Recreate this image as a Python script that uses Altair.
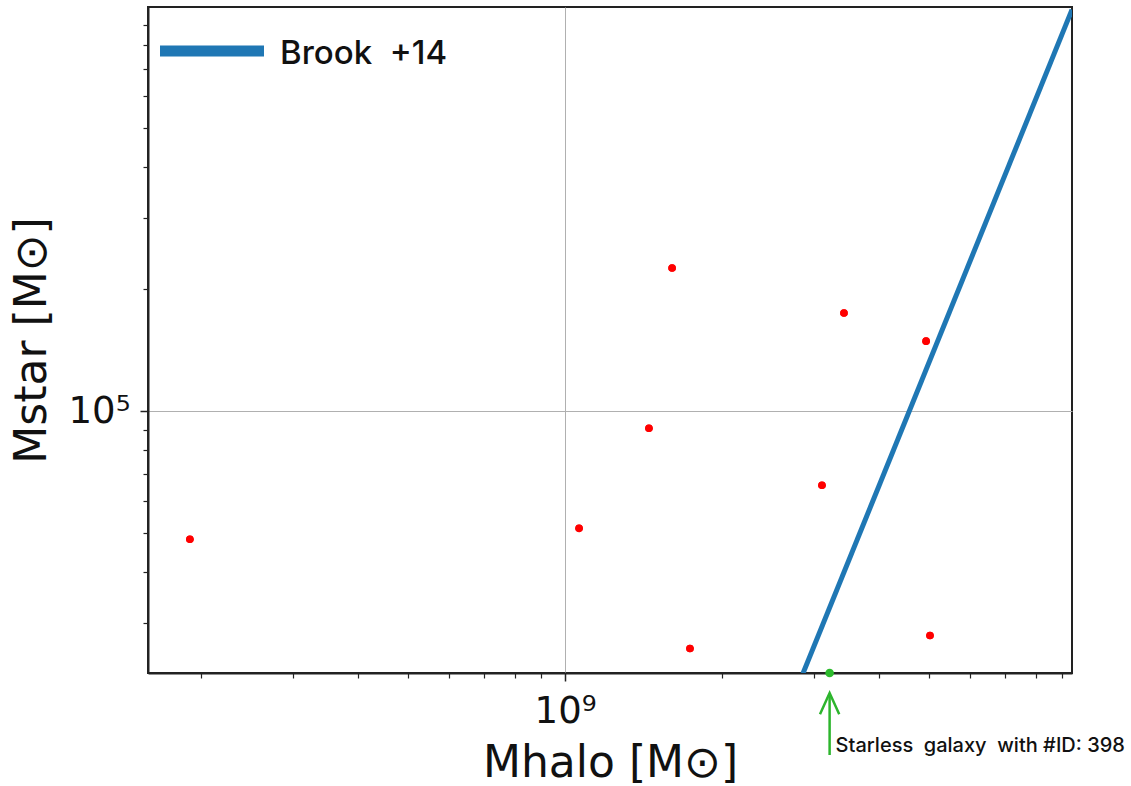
import altair as alt
import pandas as pd

# ---- data ----
mhalo = [1.905e8, 1.064e9, 1.449e9, 1.605e9, 1.737e9, 3.113e9, 3.431e9, 4.932e9, 5.018e9]
mstar = [48270, 51370, 90770, 225700, 25950, 65620, 174700, 148900, 27940]

starless_mhalo = [3.22e9]
starless_mstar = [22570]

brook_mhalo = [2.862e9, 9.40e9]
brook_mstar = [22510, 980000]

x_major = [1e9]
x_minor = [2e8, 3e8, 4e8, 5e8, 6e8, 7e8, 8e8, 9e8, 2e9, 3e9, 4e9, 5e9, 6e9, 7e9, 8e9, 9e9]
y_major = [1e5]
y_minor = [3e4, 4e4, 5e4, 6e4, 7e4, 8e4, 9e4, 2e5, 3e5, 4e5, 5e5, 6e5, 7e5, 8e5, 9e5]

x_domain = [1.583e8, 9.40e9]
y_domain = [22570, 995000]

legend_label = "Brook\u00a0\u00a0+14"
note_text = "Starless\u00a0\u00a0galaxy\u00a0\u00a0with #ID: 398"

pts = pd.DataFrame({"mhalo": mhalo, "mstar": mstar})
starless = pd.DataFrame({"mhalo": starless_mhalo, "mstar": starless_mstar})
brook = pd.DataFrame({"mhalo": brook_mhalo, "mstar": brook_mstar})
one = pd.DataFrame({"k": [0]})

xs = alt.Scale(type="log", domain=x_domain, nice=False, zero=False)
ys = alt.Scale(type="log", domain=y_domain, nice=False, zero=False)

BLACK = "#222222"

x_axis_major = alt.Axis(
    orient="bottom", values=x_major, labelExpr="'10⁹'", title="Mhalo [M⊙]",
    grid=True, gridColor="#b0b0b0", gridWidth=1, tickSize=8, tickWidth=1.5,
    tickColor=BLACK, domainColor=BLACK, domainWidth=2, labelFont="DejaVu Sans",
    labelFontSize=37, labelColor="#111111", labelPadding=12, titleFont="DejaVu Sans",
    titleFontSize=44, titleFontWeight="normal", titleColor="#111111", titlePadding=12,
)
y_axis_major = alt.Axis(
    orient="left", values=y_major, labelExpr="'10⁵'", title="Mstar [M⊙]",
    grid=True, gridColor="#b0b0b0", gridWidth=1, tickSize=8, tickWidth=1.5,
    tickColor=BLACK, domainColor=BLACK, domainWidth=2, labelFont="DejaVu Sans",
    labelFontSize=37, labelColor="#111111", labelPadding=10, titleFont="DejaVu Sans",
    titleFontSize=44, titleFontWeight="normal", titleColor="#111111", titlePadding=14,
)
x_axis_minor = alt.Axis(orient="bottom", values=x_minor, labels=False, title=None,
                        grid=False, tickSize=5, tickWidth=1.2, tickColor=BLACK, domain=False)
y_axis_minor = alt.Axis(orient="left", values=y_minor, labels=False, title=None,
                        grid=False, tickSize=5, tickWidth=1.2, tickColor=BLACK, domain=False)

red = alt.Chart(pts).mark_point(filled=True, color="#ff0000", size=58, opacity=1).encode(
    x=alt.X("mhalo:Q", scale=xs, axis=x_axis_major),
    y=alt.Y("mstar:Q", scale=ys, axis=y_axis_major),
)

minor = alt.Chart(pts).mark_point(opacity=0).encode(
    x=alt.X("mhalo:Q", scale=xs, axis=x_axis_minor),
    y=alt.Y("mstar:Q", scale=ys, axis=y_axis_minor),
)

line = alt.Chart(brook).mark_line(color="#1f77b4", strokeWidth=5, clip=True).encode(
    x=alt.X("mhalo:Q", scale=xs, axis=None),
    y=alt.Y("mstar:Q", scale=ys, axis=None),
)

red_top = alt.Chart(pts).mark_point(filled=True, color="#ff0000", size=58, opacity=1).encode(
    x=alt.X("mhalo:Q", scale=xs, axis=None),
    y=alt.Y("mstar:Q", scale=ys, axis=None),
)

green_pt = alt.Chart(starless).mark_point(filled=True, color="#2dbb2d", size=75, opacity=1).encode(
    x=alt.X("mhalo:Q", scale=xs, axis=None),
    y=alt.Y("mstar:Q", scale=ys, axis=None),
)

arrow_shaft = alt.Chart(starless).mark_rule(color="#2db52d", strokeWidth=2.5).encode(
    x=alt.X("mhalo:Q", scale=xs, axis=None),
    y=alt.value(687), y2=alt.value(748),
)
arrow_head = alt.Chart(starless).mark_point(
    shape="M-1,2.2L0,0L1,2.2", filled=False, color="#2db52d", strokeWidth=2.5, size=370, opacity=1
).encode(
    x=alt.X("mhalo:Q", scale=xs, axis=None),
    y=alt.value(686),
)
note = alt.Chart(starless).mark_text(
    align="left", baseline="alphabetic", font="Inter", fontSize=20, fontWeight=500, color="#111111", dx=6
).encode(
    x=alt.X("mhalo:Q", scale=xs, axis=None),
    y=alt.value(745),
    text=alt.value(note_text),
)

leg_line = alt.Chart(one).mark_rule(color="#1f77b4", strokeWidth=11, strokeCap="butt").encode(
    x=alt.value(12), x2=alt.value(116), y=alt.value(44),
)
leg_text = alt.Chart(one).mark_text(
    align="left", baseline="alphabetic", font="Inter", fontSize=33, fontWeight=500, color="#111111",
).encode(
    x=alt.value(132), y=alt.value(57), text=alt.value(legend_label),
)

chart = alt.layer(
    red, minor, line, red_top, green_pt, arrow_shaft, arrow_head, note, leg_line, leg_text
).resolve_axis(x="independent", y="independent").properties(
    width=924, height=666,
    autosize=alt.AutoSizeParams(type="none"),
    padding={"left": 148, "top": 7, "right": 59, "bottom": 113},
    background="white",
).configure_view(stroke=BLACK, strokeWidth=2)

chart.save("out.html", embed_options={"renderer": "svg", "actions": False})
